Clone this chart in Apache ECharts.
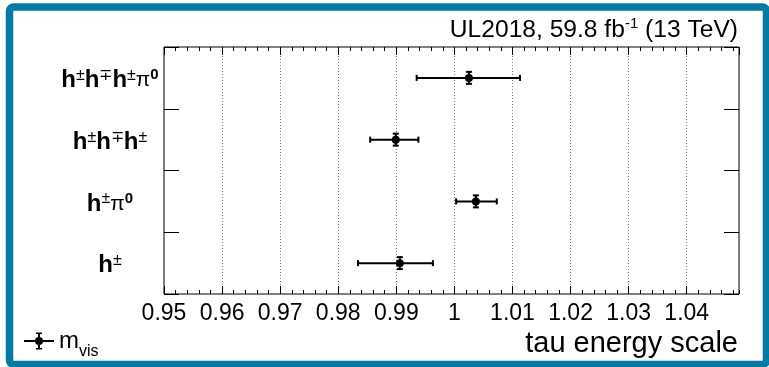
<!DOCTYPE html>
<html>
<head>
<meta charset="utf-8">
<script src="https://cdn.jsdelivr.net/npm/echarts@6/dist/echarts.min.js"></script>
<style>
    html, body { margin: 0; padding: 0; background: #fff; }
    #chart { width: 769px; height: 367px; }
</style>
</head>
<body>
<div id="chart"></div>
<script>
// Tau energy scale fit results per decay mode (categories listed bottom -> top)
const decayModes = ["h±", "h±π0", "h±h∓h±", "h±h∓h±π0"];
const tesValues = [0.9906, 1.0037, 0.9899, 1.0025];
const tesLow = [0.9834, 1.0003, 0.9855, 0.9935];
const tesHigh = [0.9963, 1.0073, 0.9938, 1.0113];

// x axis range and ticks
const xMin = 0.95;
const xMax = 1.049;
const xMajorStep = 0.01;
const xMinorStep = 0.002;

const FONT = "Liberation Sans, Arial, Helvetica, sans-serif";

// turn "h±π0" into rich text: bold h, superscript charges and pi0
function modeLabel(name) {
    let out = "";
    for (const ch of name) {
        if (ch === "h") out += "{h|h}";
        else if (ch === "±" || ch === "∓") out += "{sp|" + ch + "}";
        else if (ch === "π") out += "{pi|π}";
        else if (ch === "0") out += "{sz|0}";
    }
    return out;
}

function renderErrorBar(params, api) {
    const c = api.coord([api.value(0), api.value(1)]);
    const lo = api.coord([api.value(2), api.value(1)]);
    const hi = api.coord([api.value(3), api.value(1)]);
    const s = { stroke: "#000", lineWidth: 2 };
    const y = c[1];
    return {
        type: "group",
        children: [
            { type: "line", shape: { x1: lo[0], y1: y, x2: hi[0], y2: y }, style: s },
            { type: "line", shape: { x1: lo[0], y1: y - 3, x2: lo[0], y2: y + 3 }, style: s },
            { type: "line", shape: { x1: hi[0], y1: y - 3, x2: hi[0], y2: y + 3 }, style: s },
            { type: "line", shape: { x1: c[0], y1: y - 6, x2: c[0], y2: y + 6 }, style: s },
            { type: "line", shape: { x1: c[0] - 3, y1: y - 6, x2: c[0] + 3, y2: y - 6 }, style: s },
            { type: "line", shape: { x1: c[0] - 3, y1: y + 6, x2: c[0] + 3, y2: y + 6 }, style: s },
            { type: "circle", shape: { cx: c[0], cy: y, r: 4 }, style: { fill: "#000" } },
        ],
    };
}

const chart = echarts.init(document.getElementById("chart"), null, { renderer: "canvas" });

const gridBox = { left: 164, top: 47, right: 30, bottom: 73 };
const labelFmt = (v) => String(+v.toFixed(2));
const noLine = { show: false, onZero: false };
const tick = (len) => ({ show: true, inside: true, length: len, lineStyle: { color: "#000", width: 1 } });

const option = {
    backgroundColor: "#fff",
    animation: false,
    textStyle: { fontFamily: FONT },
    title: {
        right: 31,
        top: 16,
        padding: 0,
        text: "{a|UL2018, 59.8 fb}{s|-1}{a| (13 TeV)}",
        textStyle: {
            fontWeight: "normal",
            rich: {
                a: { fontFamily: FONT, fontWeight: "normal", fontSize: 24.6, color: "#000", lineHeight: 28 },
                s: { fontFamily: FONT, fontWeight: "normal", fontSize: 15, color: "#000", verticalAlign: "top", lineHeight: 15 },
            },
        },
    },
    legend: {
        left: 24,
        top: 329,
        padding: 0,
        itemWidth: 30,
        itemHeight: 17,
        data: [
            {
                name: "mvis",
                icon: "path://M0,7.5h30v2h-30z M14,0h2v17h-2z M12,0h6v1.5h-6z M12,15.5h6v1.5h-6z M11,8.5a4,4 0 1,1 8,0a4,4 0 1,1 -8,0z",
            },
        ],
        formatter: () => "{m|m}{s|vis}",
        textStyle: {
            rich: {
                m: { fontFamily: FONT, fontSize: 24, color: "#000", lineHeight: 24 },
                s: { fontFamily: FONT, fontSize: 16, color: "#000", verticalAlign: "bottom", lineHeight: 16, padding: [0, 0, -7, 0] },
            },
        },
    },
    grid: [
        Object.assign({ show: true, borderColor: "#000", borderWidth: 1, backgroundColor: "transparent" }, gridBox),
        Object.assign({}, gridBox),
    ],
    xAxis: [
        {
            type: "value",
            gridIndex: 0,
            position: "bottom",
            min: xMin,
            max: xMax,
            interval: xMajorStep,
            axisLine: noLine,
            axisTick: tick(8),
            axisLabel: {
                formatter: labelFmt,
                showMaxLabel: false,
                color: "#000",
                fontFamily: FONT,
                fontSize: 23,
                margin: 8,
            },
            splitLine: { show: true, lineStyle: { color: "#777", type: [1, 2], width: 1 } },
            name: "tau energy scale",
            nameLocation: "end",
            nameGap: -1,
            nameTextStyle: {
                fontFamily: FONT,
                fontSize: 29,
                color: "#000",
                align: "right",
                verticalAlign: "top",
                padding: [35, 0, 0, 0],
            },
        },
        {
            type: "value",
            gridIndex: 0,
            position: "top",
            min: xMin,
            max: xMax,
            interval: xMajorStep,
            axisLine: noLine,
            axisTick: tick(8),
            axisLabel: { show: false },
            splitLine: { show: false },
        },
        {
            type: "value",
            gridIndex: 1,
            position: "bottom",
            min: xMin,
            max: xMax,
            interval: xMinorStep,
            axisLine: noLine,
            axisTick: tick(4),
            axisLabel: { show: false },
            splitLine: { show: false },
        },
        {
            type: "value",
            gridIndex: 1,
            position: "top",
            min: xMin,
            max: xMax,
            interval: xMinorStep,
            axisLine: noLine,
            axisTick: tick(4),
            axisLabel: { show: false },
            splitLine: { show: false },
        },
    ],
    yAxis: [
        {
            type: "category",
            gridIndex: 0,
            position: "left",
            data: decayModes,
            axisLine: noLine,
            axisTick: tick(15),
            axisLabel: {
                formatter: modeLabel,
                align: "center",
                margin: 54,
                padding: [5, 0, 0, 0],
                rich: {
                    h: { fontFamily: FONT, fontWeight: "bold", fontSize: 24, color: "#000", lineHeight: 26 },
                    sp: { fontFamily: FONT, fontSize: 16, color: "#000", verticalAlign: "top", lineHeight: 16 },
                    pi: { fontFamily: FONT, fontSize: 21, color: "#000", lineHeight: 26 },
                    sz: { fontFamily: FONT, fontWeight: "bold", fontSize: 15, color: "#000", verticalAlign: "top", lineHeight: 16 },
                },
            },
            splitLine: { show: false },
        },
        {
            type: "category",
            gridIndex: 0,
            position: "right",
            data: decayModes,
            axisLine: noLine,
            axisTick: tick(15),
            axisLabel: { show: false },
            splitLine: { show: false },
        },
        {
            type: "value",
            gridIndex: 1,
            show: false,
        },
    ],
    graphic: [
        {
            type: "rect",
            silent: true,
            z: 100,
            shape: { x: 9.5, y: 7, width: 757, height: 357.5, r: 4 },
            style: { fill: "none", stroke: "#0479a1", lineWidth: 7.5 },
        },
    ],
    series: [
        {
            name: "mvis",
            type: "custom",
            xAxisIndex: 0,
            yAxisIndex: 0,
            itemStyle: { color: "#000" },
            encode: { x: [0, 2, 3], y: 1 },
            renderItem: renderErrorBar,
            data: decayModes.map((m, i) => [tesValues[i], i, tesLow[i], tesHigh[i]]),
        },
    ],
};

chart.setOption(option);
</script>
</body>
</html>
